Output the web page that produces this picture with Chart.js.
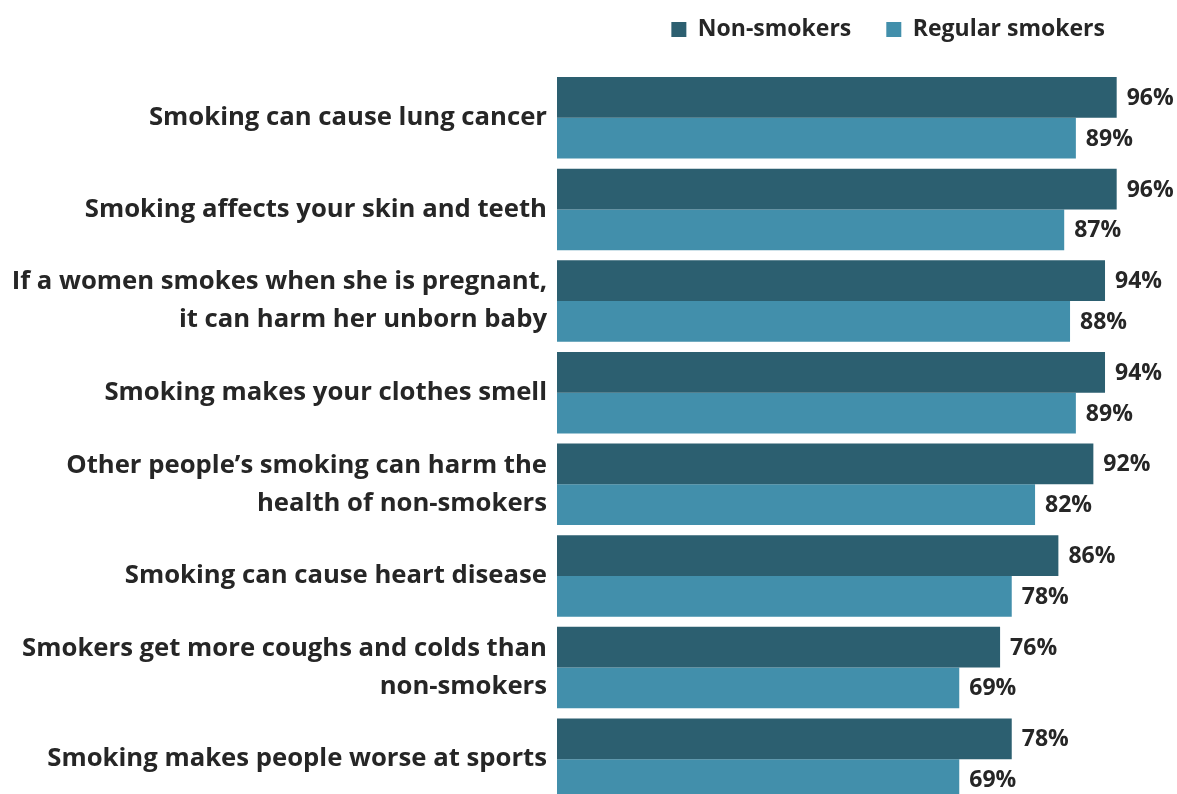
<!DOCTYPE html>
<html>
<head>
<meta charset="utf-8">
<script src="https://cdn.jsdelivr.net/npm/chart.js@4.4.1/dist/chart.umd.min.js"></script>
<style>
  html, body { margin: 0; padding: 0; background: #fff; overflow: hidden; }
  canvas { display: block; }
</style>
</head>
<body>
<canvas id="chart" width="1177" height="834"></canvas>
<script>
const categories = [
  'Smoking can cause lung cancer',
  'Smoking affects your skin and teeth',
  ['If a women smokes when she is pregnant,', 'it can harm her unborn baby'],
  'Smoking makes your clothes smell',
  ['Other people\u2019s smoking can harm the', 'health of non-smokers'],
  'Smoking can cause heart disease',
  ['Smokers get more coughs and colds than', 'non-smokers'],
  'Smoking makes people worse at sports'
];
const nonSmokers = [96, 96, 94, 94, 92, 86, 76, 78];
const regularSmokers = [89, 87, 88, 89, 82, 78, 69, 69];

const DARK = '#2c5f70';
const LIGHT = '#428fab';
const TEXT = '#262626';
const FONT = "'Open Sans', 'Liberation Sans', sans-serif";

// legend keeps its own look, only the space under it is stretched
const legendSpace = {
  id: 'legendSpace',
  beforeInit(chart) {
    const legend = chart.legend;
    const fit = legend.fit;
    legend.fit = function () {
      fit.call(this);
      this.height = 89;
    };
  }
};

const valueLabels = {
  id: 'valueLabels',
  afterDatasetsDraw(chart) {
    const ctx = chart.ctx;
    ctx.save();
    ctx.font = `bold 23px ${FONT}`;
    ctx.fillStyle = TEXT;
    ctx.textAlign = 'left';
    ctx.textBaseline = 'middle';
    chart.data.datasets.forEach((ds, i) => {
      chart.getDatasetMeta(i).data.forEach((bar, j) => {
        ctx.fillText(`${ds.data[j]}%`, bar.x + 10, bar.y + 1);
      });
    });
    ctx.restore();
  }
};

new Chart(document.getElementById('chart'), {
  type: 'bar',
  data: {
    labels: categories,
    datasets: [
      {
        label: 'Non-smokers',
        data: nonSmokers,
        backgroundColor: DARK,
        borderWidth: 0
      },
      {
        label: 'Regular smokers',
        data: regularSmokers,
        backgroundColor: LIGHT,
        borderWidth: 0
      }
    ]
  },
  options: {
    indexAxis: 'y',
    responsive: false,
    animation: false,
    categoryPercentage: 0.89,
    barPercentage: 1,
    layout: {
      padding: { left: 0, right: 37, top: -17, bottom: 5 }
    },
    plugins: {
      legend: {
        position: 'top',
        align: 'end',
        labels: {
          color: TEXT,
          font: { family: FONT, size: 23, weight: 'bold' },
          boxWidth: 15,
          boxHeight: 15,
          padding: 35
        }
      },
      tooltip: { enabled: false }
    },
    scales: {
      x: {
        display: false,
        min: 0,
        max: 100
      },
      y: {
        border: { display: false },
        grid: { display: false, drawTicks: false },
        afterFit(scale) {
          scale.width = 557;
        },
        ticks: {
          color: TEXT,
          padding: 10,
          font: { family: FONT, size: 25.7, weight: 'bold', lineHeight: 1.48 }
        }
      }
    }
  },
  plugins: [legendSpace, valueLabels]
});
</script>
</body>
</html>
